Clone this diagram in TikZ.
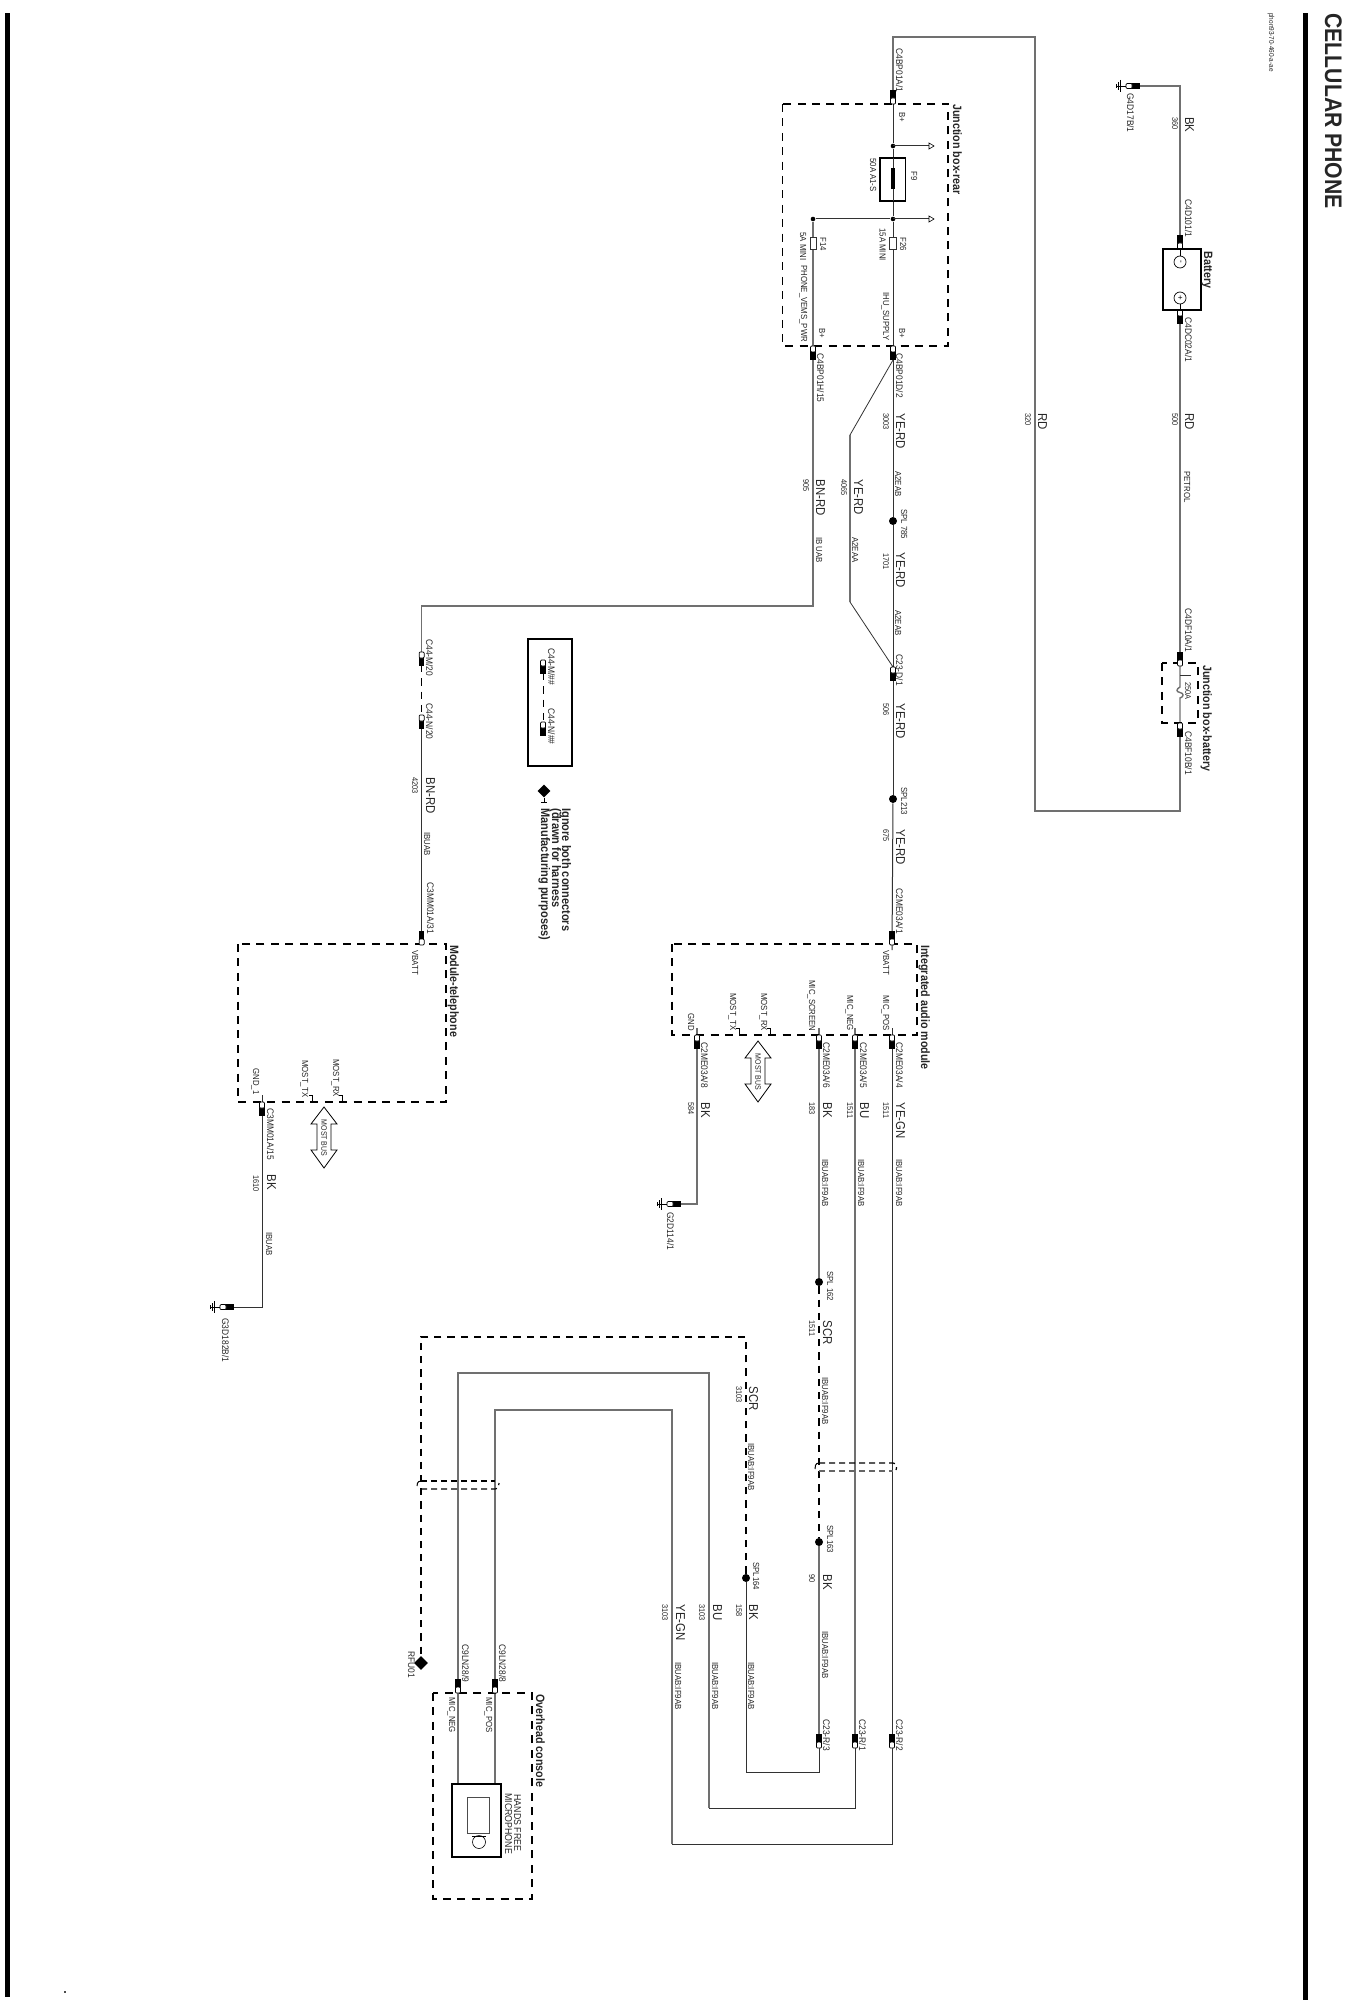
\documentclass[tikz,border=0pt]{standalone}
\usepackage{fontspec}
\setmainfont{Liberation Sans}
\usetikzlibrary{calc, shapes.geometric}
\definecolor{wiredark}{RGB}{50, 50, 50}
\definecolor{wirelight}{RGB}{112, 112, 112}
\tikzset{
  wire/.style={wiredark, line width=0.5pt},
  wirel/.style={wirelight, line width=0.7pt},
  wired/.style={black, line width=0.75pt, dash pattern=on 3.6pt off 3pt},
  modbox/.style={black, line width=0.75pt, dash pattern=on 4pt off 3.2pt},
  solidbox/.style={black, line width=0.85pt},
  twist/.style={line width=0.6pt, dash pattern=on 3pt off 2pt},
  splice/.style={circle, fill=black, inner sep=0pt, minimum size=4pt},
  minidot/.style={circle, fill=black, inner sep=0pt, minimum size=2.3pt},
  txt/.style={rotate=-90, yscale=1.13, anchor=base west, inner sep=0pt, text=black!85},
  conlbl/.style={txt, font=\fontsize{4.2}{5}\selectfont},
  siglbl/.style={txt, font=\fontsize{3.9}{5}\selectfont},
  numlbl/.style={txt, font=\fontsize{3.7}{5}\selectfont},
  collbl/.style={txt, font=\fontsize{5.7}{7}\selectfont},
  boxlbl/.style={txt, font=\fontsize{5.35}{7}\selectfont\bfseries},
  conn/.pic={
    \fill[black] (-2.7, -5) rectangle (2.7, -14);
    \draw[fill=white, line width=0.35pt, rounded corners=0.5pt] (-2.5, 0) rectangle (2.5, -6);
  },
  gnd/.pic={
    \draw[line width=0.4pt] (0, 0) -- (-9, 0);
    \draw[line width=0.4pt] (-6, -6) -- (-6, 6);
    \draw[line width=0.4pt] (-8, -4) -- (-8, 4);
    \draw[line width=0.4pt] (-10, -2) -- (-10, 2);
  },
  tap/.pic={
    \draw[wire] (0, 0) -- (36, 0);
    \draw[line width=0.3pt, fill=white] (36, -3) -- (41, 0) -- (36, 3) -- cycle;
  },
  stub/.pic={
    \draw[line width=0.45pt] (-3, -7) -- (0, -7) -- (0, 0);
  },
  mostbus/.pic={
    \draw[line width=0.4pt, fill=white] (0, 0) -- (13, 17) -- (7, 17) -- (7, 43) -- (13, 43)
      -- (0, 61) -- (-13, 43) -- (-7, 43) -- (-7, 17) -- (-13, 17) -- cycle;
  }
}

\begin{document}
\begin{tikzpicture}[x=0.5pt, y=-0.5pt]
  \useasboundingbox (0, 0) rectangle (1346, 2000);

  % page furniture
  \fill[black] (5, 13) rectangle (10, 1997);
  \fill[black] (1303, 13) rectangle (1307.5, 2000);
  \fill[black!70] (63.5, 1991) rectangle (66, 1993);
  \node[txt, font=\fontsize{10.6}{13}\selectfont\bfseries] (title) at (1325, 13) {CELLULAR PHONE};
  \node[numlbl, font=\fontsize{3.2}{4}\selectfont] (fileref) at (1269, 13) {phon93-70-460-a-ae};

  % connector positions
  \coordinate (c4bp01a) at (893, 104);
  \coordinate (c4bp01d) at (893, 346);
  \coordinate (c4bp01h) at (813, 346);
  \coordinate (c2me03a1) at (892, 945);
  \coordinate (c23d) at (893, 667);
  \coordinate (c44m) at (421.7, 652);
  \coordinate (c44n) at (421.7, 715);
  \coordinate (c3mm31) at (421.7, 945);
  \coordinate (c3mm15) at (262, 1102);
  \coordinate (c4d101) at (1180, 249);
  \coordinate (c4dc02) at (1180, 310);
  \coordinate (c4df10) at (1180, 666);
  \coordinate (c4bf10) at (1180, 723);
  \coordinate (c2me4) at (892, 1035);
  \coordinate (c2me5) at (855, 1035);
  \coordinate (c2me6) at (819, 1035);
  \coordinate (c2me8) at (697, 1035);
  \coordinate (c23r3) at (819, 1748);
  \coordinate (c23r1) at (855, 1748);
  \coordinate (c23r2) at (892, 1748);
  \coordinate (c9lnneg) at (458, 1693);
  \coordinate (c9lnpos) at (495, 1693);
  \coordinate (g4d17) at (1126, 86);
  \coordinate (g2d114) at (667, 1204);
  \coordinate (g3d182) at (220, 1307);

  % splices
  \node[splice] (spl785) at (893, 521) {};
  \node[splice] (spl213) at (893, 799) {};
  \node[splice] (spl162) at (819, 1282) {};
  \node[splice] (spl163) at (819, 1542) {};
  \node[splice] (spl164) at (746, 1578) {};
  \node[minidot] (jf9) at (893, 146) {};
  \node[minidot] (jf26) at (893, 219) {};
  \node[minidot] (jf14) at (813, 219) {};
  \node[diamond, fill=black, inner sep=0pt, minimum size=7pt] (rfu) at (421, 1663) {};

  % wires
  \draw[wirel] (c4bp01a) -- (893, 37) -- (1035, 37) -- (1035, 811) -- (1180, 811) -- (c4bf10);
  \draw[wire] (c4bp01a) -- (jf9);
  \draw[wire] (jf9) -- (jf26);
  \draw[wire] (jf26) -- (c4bp01d);
  \draw[wire] (jf26) -- (jf14);
  \draw[wirel] (jf14) -- (c4bp01h);
  \draw[wirel] (c4bp01h) -- (813, 606) -- (421.7, 606) -- (c44m);
  \draw[wired, line width=0.45pt] (c44m) -- (c44n);
  \draw[wire] (c44n) -- (c3mm31);
  \draw[wire] (c4bp01d) -- (spl785);
  \draw[wire] (spl785) -- (spl213);
  \draw[wire] (spl213) -- (892, 950);
  \draw[wire, line width=0.4pt] (893, 360) -- (850, 435);
  \draw[wirel] (850, 435) -- (850, 602);
  \draw[wire, line width=0.4pt] (850, 602) -- (c23d);
  \draw[wirel] (g4d17) -- (1180, 86) -- (c4d101);
  \draw[wirel] (c4dc02) -- (c4df10);
  \draw[wirel] (c4df10) -- (1180, 687) .. controls (1176, 689) and (1176, 692) .. (1180, 692.5)
    .. controls (1184, 693) and (1184, 697) .. (1180, 698) -- (c4bf10);
  \draw[wire, line width=0.4pt] (1180, 675) -- (1191, 675);

  \draw[wire] (892, 1028) -- (c23r2);
  \draw[wirel] (855, 1028) -- (c23r1);
  \draw[wirel] (819, 1028) -- (spl162);
  \draw[wired] (spl162) -- (spl163);
  \draw[wirel] (spl163) -- (c23r3);
  \draw[wire] (c23r3) -- (819, 1772) -- (746, 1772) -- (spl164);
  \draw[wired] (spl164) -- (746, 1337) -- (421, 1337) -- (rfu);
  \draw[wire] (c23r1) -- (855, 1808) -- (709, 1808);
  \draw[wirel] (709, 1808) -- (709, 1373) -- (458, 1373) -- (c9lnneg);
  \draw[wire] (c23r2) -- (892, 1844) -- (672, 1844);
  \draw[wirel] (672, 1844) -- (672, 1410) -- (495, 1410) -- (c9lnpos);
  \draw[wirel] (c9lnneg) -- (458, 1784);
  \draw[wirel] (c9lnpos) -- (495, 1784);
  \draw[wirel] (697, 1028) -- (697, 1204) -- (g2d114);
  \draw[wire] (262, 1095) -- (262, 1307) -- (g3d182);

  % twist marks
  \draw[twist, black] (819, 1463) -- (893, 1463) .. controls (897, 1463) and (897, 1468) .. (896, 1470);
  \draw[twist, black!60] (819, 1471) -- (893, 1471);
  \draw[line width=0.5pt] (819, 1463) .. controls (815, 1463) and (815, 1467) .. (815, 1469);
  \draw[twist, black] (421, 1481) -- (495, 1481);
  \draw[twist, black] (421, 1489) -- (495, 1489) .. controls (499, 1489) and (499, 1485) .. (499, 1483);
  \draw[line width=0.5pt] (421, 1481) .. controls (417, 1481) and (417, 1485) .. (417, 1486);

  % dashed module boxes
  \draw[modbox] (782.5, 104) rectangle (948, 346);
  \draw[modbox] (1162, 663) rectangle (1198, 723);
  \draw[modbox] (672, 944) rectangle (917, 1035);
  \draw[modbox] (238, 944) rectangle (446, 1102);
  \draw[modbox] (433, 1693) rectangle (532, 1899);

  % connector pins
  \pic at (c4bp01a) {conn};
  \pic[rotate=180] at (c4bp01d) {conn};
  \pic[rotate=180] at (c4bp01h) {conn};
  \pic at (c2me03a1) {conn};
  \pic[rotate=180] at (c23d) {conn};
  \pic[rotate=180] at (c44m) {conn};
  \pic[rotate=180] at (c44n) {conn};
  \pic at (c3mm31) {conn};
  \pic[rotate=180] at (c3mm15) {conn};
  \pic at (c4d101) {conn};
  \pic[rotate=180] at (c4dc02) {conn};
  \pic at (c4df10) {conn};
  \pic[rotate=180] at (c4bf10) {conn};
  \pic[rotate=180] at (c2me4) {conn};
  \pic[rotate=180] at (c2me5) {conn};
  \pic[rotate=180] at (c2me6) {conn};
  \pic[rotate=180] at (c2me8) {conn};
  \pic at (c23r3) {conn};
  \pic at (c23r1) {conn};
  \pic at (c23r2) {conn};
  \pic at (c9lnneg) {conn};
  \pic at (c9lnpos) {conn};
  \pic[rotate=-90] at (g4d17) {conn};
  \pic[rotate=-90] at (g2d114) {conn};
  \pic[rotate=-90] at (g3d182) {conn};
  \pic at (g4d17) {gnd};
  \pic at (g2d114) {gnd};
  \pic at (g3d182) {gnd};

  % junction box internals
  \pic at (jf9) {tap};
  \pic at (jf26) {tap};
  \draw[solidbox, fill=white] (880, 158) rectangle (905.4, 201);
  \draw[wire] (893, 158) -- (893, 201);
  \fill[black] (891, 168) rectangle (895, 189);
  \draw[wire, line width=0.4pt, fill=white] (889, 237) rectangle (896, 249);
  \draw[wire, line width=0.4pt, fill=white] (810, 237) rectangle (816, 249);

  % pin stubs
  \pic at (770, 1035) {stub};
  \pic at (739, 1035) {stub};
  \pic at (342, 1102) {stub};
  \pic at (312, 1102) {stub};

  % most bus arrows
  \pic at (758, 1041) {mostbus};
  \pic at (324, 1107) {mostbus};
  \node[siglbl, anchor=center, font=\fontsize{3.5}{4}\selectfont] (busa) at (758, 1072) {MOST BUS};
  \node[siglbl, anchor=center, font=\fontsize{3.5}{4}\selectfont] (busb) at (324, 1138) {MOST BUS};

  % battery
  \draw[solidbox] (1162.7, 249) rectangle (1200.7, 310);
  \draw[line width=0.4pt] (1180, 249) -- (1180, 256);
  \draw[line width=0.4pt] (1180, 304) -- (1180, 310);
  \node[draw, circle, line width=0.35pt, inner sep=0pt, minimum size=6pt, font=\fontsize{3}{3}\selectfont] (termneg) at (1180, 262) {};
  \node[draw, circle, line width=0.35pt, inner sep=0pt, minimum size=6pt, font=\fontsize{3}{3}\selectfont] (termpos) at (1180, 298) {};
  \node[anchor=center, inner sep=0pt, rotate=-90, font=\fontsize{4}{4}\selectfont] (signneg) at (termneg) {-};
  \node[anchor=center, inner sep=0pt, rotate=-90, font=\fontsize{4}{4}\selectfont] (signpos) at (termpos) {+};

  % legend
  \draw[solidbox] (528, 639) rectangle (572, 766);
  \coordinate (legm) at (543, 660);
  \coordinate (legn) at (543, 722);
  \draw[wired, line width=0.45pt] (legm) -- (legn);
  \pic[rotate=180] at (legm) {conn};
  \pic[rotate=180] at (legn) {conn};
  \node[conlbl] (legmt) at (548, 648) {C44-M/\#\#};
  \node[conlbl] (legnt) at (548, 708) {C44-N/\#\#};
  \node[diamond, fill=black, inner sep=0pt, minimum size=6.5pt] (legd) at (544, 791) {};
  \draw[line width=0.4pt] (legd) -- (544, 802);
  \draw[line width=0.4pt] (541, 802) -- (547, 802);
  \node[boxlbl, font=\fontsize{5.5}{6}\selectfont\bfseries] (noteone) at (562, 808) {Ignore both connectors};
  \node[boxlbl, font=\fontsize{5.5}{6}\selectfont\bfseries] (notetwo) at (552, 808) {(drawn for harness};
  \node[boxlbl, font=\fontsize{5.5}{6}\selectfont\bfseries] (notethree) at (541, 808) {Manufacturing purposes)};

  % microphone
  \draw[solidbox] (452, 1784) rectangle (501, 1857);
  \draw[line width=0.45pt, black!70] (467, 1797) rectangle (489, 1833);
  \draw[line width=0.3pt] (472, 1836) -- (486, 1836);
  \node[draw, circle, line width=0.3pt, inner sep=0pt, minimum size=6.5pt] (micro) at (479, 1842) {};
  \node[conlbl, font=\fontsize{4.4}{5}\selectfont] (micone) at (514, 1794) {HANDS FREE};
  \node[conlbl, font=\fontsize{4.4}{5}\selectfont] (mictwo) at (505, 1793) {MICROPHONE};

  % box titles
  \node[boxlbl] (jbrear) at (953, 104) {Junction box-rear};
  \node[boxlbl] (batt) at (1204, 251) {Battery};
  \node[boxlbl] (jbbatt) at (1203, 665) {Junction box-battery};
  \node[boxlbl] (iam) at (921, 945) {Integrated audio module};
  \node[boxlbl] (modtel) at (450, 945) {Module-telephone};
  \node[boxlbl] (ohc) at (536, 1694) {Overhead console};

  % connector labels
  \node[conlbl] (tc4bp01a) at (896, 48) {C4BP01A/1};
  \node[conlbl] (tc4bp01d) at (896, 353) {C4BP01D/2};
  \node[conlbl] (tc4bp01h) at (817, 353) {C4BP01H/15};
  \node[conlbl] (tc23d) at (896, 654) {C23-D/1};
  \node[conlbl] (tc2me1) at (896, 888) {C2ME03A/1};
  \node[conlbl] (tc44m) at (426, 639) {C44-M/20};
  \node[conlbl] (tc44n) at (426, 703) {C44-N/20};
  \node[conlbl] (tc3mm31) at (427, 882) {C3MM01A/31};
  \node[conlbl] (tc3mm15) at (267, 1108) {C3MM01A/15};
  \node[conlbl] (tc4d101) at (1185, 199) {C4D101/1};
  \node[conlbl] (tc4dc02) at (1185, 317) {C4DC02A/1};
  \node[conlbl] (tc4df10) at (1185, 608) {C4DF10A/1};
  \node[conlbl] (tc4bf10) at (1185, 731) {C4BF10B/1};
  \node[conlbl] (tg4d17) at (1127, 93) {G4D17B/1};
  \node[conlbl] (tg2d114) at (667, 1212) {G2D114/1};
  \node[conlbl] (tg3d182) at (222, 1318) {G3D182B/1};
  \node[conlbl] (tc2me4) at (896, 1042) {C2ME03A/4};
  \node[conlbl] (tc2me5) at (860, 1042) {C2ME03A/5};
  \node[conlbl] (tc2me6) at (823, 1042) {C2ME03A/6};
  \node[conlbl] (tc2me8) at (701, 1042) {C2ME03A/8};
  \node[conlbl] (tc23r3) at (823, 1719) {C23-R/3};
  \node[conlbl] (tc23r1) at (859, 1719) {C23-R/1};
  \node[conlbl] (tc23r2) at (896, 1719) {C23-R/2};
  \node[conlbl] (tc9ln9) at (462, 1644) {C9LN28/9};
  \node[conlbl] (tc9ln8) at (499, 1644) {C9LN28/8};
  \node[conlbl] (trfu) at (408, 1651) {RFU01};

  % splice labels
  \node[siglbl] (tspl785) at (901, 509) {SPL 785};
  \node[siglbl] (tspl213) at (901, 787) {SPL213};
  \node[siglbl] (tspl162) at (827, 1271) {SPL 162};
  \node[siglbl] (tspl163) at (827, 1525) {SPL163};
  \node[siglbl] (tspl164) at (753, 1562) {SPL164};

  % fuse and pin labels
  \node[siglbl] (tbplusa) at (899, 112) {B+};
  \node[siglbl] (tbplusb) at (899, 328) {B+};
  \node[siglbl] (tbplusc) at (819, 328) {B+};
  \node[siglbl] (tf9) at (911, 171) {F9};
  \node[siglbl] (t50a) at (870, 158) {50A A1-S};
  \node[siglbl] (tf26) at (900, 237) {F26};
  \node[siglbl] (t15a) at (879.5, 228) {15A MINI};
  \node[siglbl] (tf14) at (820, 237) {F14};
  \node[siglbl] (t5a) at (800, 232) {5A MINI};
  \node[siglbl] (tphone) at (801, 265) {PHONE\_VEMS\_PWR};
  \node[siglbl] (tihu) at (883, 292) {IHU\_SUPPLY};
  \node[numlbl] (t250a) at (1185, 682) {250A};
  \node[siglbl] (tvbatta) at (883, 950) {VBATT};
  \node[siglbl] (tmpos) at (883, 995) {MIC\_POS};
  \node[siglbl] (tmneg) at (847, 995) {MIC\_NEG};
  \node[siglbl] (tmscr) at (809, 980) {MIC\_SCREEN};
  \node[siglbl] (tmrx) at (761, 993) {MOST\_RX};
  \node[siglbl] (tmtx) at (730, 993) {MOST\_TX};
  \node[siglbl] (tgnd) at (688, 1013) {GND};
  \node[siglbl] (tvbattb) at (412, 950) {VBATT};
  \node[siglbl] (tmrxb) at (333, 1059) {MOST\_RX};
  \node[siglbl] (tmtxb) at (302, 1060) {MOST\_TX};
  \node[siglbl] (tgndb) at (253, 1068) {GND\_1};
  \node[siglbl] (tmicneg) at (449, 1697) {MIC\_NEG};
  \node[siglbl] (tmicpos) at (486, 1697) {MIC\_POS};

  % wire colours
  \node[collbl] (cye1) at (896, 413) {YE-RD};
  \node[collbl] (cye2) at (896, 552) {YE-RD};
  \node[collbl] (cye3) at (896, 703) {YE-RD};
  \node[collbl] (cye4) at (896, 829) {YE-RD};
  \node[collbl] (cye5) at (854, 479) {YE-RD};
  \node[collbl] (cbn1) at (816, 479) {BN-RD};
  \node[collbl] (cbn2) at (426, 777) {BN-RD};
  \node[collbl] (crd1) at (1038, 413) {RD};
  \node[collbl] (crd2) at (1185, 413) {RD};
  \node[collbl] (cbk1) at (1185, 117) {BK};
  \node[collbl] (cgn1) at (896, 1102) {YE-GN};
  \node[collbl] (cbu1) at (860, 1102) {BU};
  \node[collbl] (cbk2) at (823, 1102) {BK};
  \node[collbl] (cbk3) at (701, 1102) {BK};
  \node[collbl] (cbk4) at (267, 1174) {BK};
  \node[collbl] (csc1) at (823, 1320) {SCR};
  \node[collbl] (csc2) at (749, 1386) {SCR};
  \node[collbl] (cbk5) at (823, 1574) {BK};
  \node[collbl] (cbk6) at (749, 1604) {BK};
  \node[collbl] (cbu2) at (713, 1604) {BU};
  \node[collbl] (cgn2) at (676, 1604) {YE-GN};

  % wire numbers
  \node[numlbl] (n3003) at (883, 413) {3003};
  \node[numlbl] (n1701) at (883, 553) {1701};
  \node[numlbl] (n506) at (883, 703) {506};
  \node[numlbl] (n675) at (883, 829) {675};
  \node[numlbl] (n4065) at (841, 479) {4065};
  \node[numlbl] (n905) at (803, 479) {905};
  \node[numlbl] (n320) at (1025, 413) {320};
  \node[numlbl] (n500) at (1172, 413) {500};
  \node[numlbl] (n360) at (1172, 117) {360};
  \node[numlbl] (n4203) at (412, 777) {4203};
  \node[numlbl] (n1511a) at (883, 1102) {1511};
  \node[numlbl] (n1511b) at (847, 1102) {1511};
  \node[numlbl] (n183) at (809, 1102) {183};
  \node[numlbl] (n584) at (688, 1102) {584};
  \node[numlbl] (n1610) at (253, 1175) {1610};
  \node[numlbl] (n1511c) at (809, 1320) {1511};
  \node[numlbl] (n3103a) at (736, 1386) {3103};
  \node[numlbl] (n90) at (809, 1574) {90};
  \node[numlbl] (n158) at (736, 1604) {158};
  \node[numlbl] (n3103b) at (699, 1604) {3103};
  \node[numlbl] (n3103c) at (662, 1604) {3103};

  % harness codes
  \node[siglbl] (h1) at (895, 471) {A2EAB};
  \node[siglbl] (h2) at (895, 610) {A2EAB};
  \node[siglbl] (h3) at (852, 537) {A2EAA};
  \node[siglbl] (h4) at (816, 537) {IB UAB};
  \node[siglbl] (h5) at (1184, 471) {PETROL};
  \node[siglbl] (h6) at (424, 832) {IBUAB};
  \node[siglbl] (h7) at (266, 1232) {IBUAB};
  \node[siglbl] (h8) at (896, 1159) {IBUAB:IF9AB};
  \node[siglbl] (h9) at (858, 1159) {IBUAB:IF9AB};
  \node[siglbl] (h10) at (822, 1159) {IBUAB:IF9AB};
  \node[siglbl] (h11) at (822, 1377) {IBUAB:IF9AB};
  \node[siglbl] (h12) at (748, 1443) {IBUAB:IF9AB};
  \node[siglbl] (h13) at (822, 1631) {IBUAB:IF9AB};
  \node[siglbl] (h14) at (748, 1662) {IBUAB:IF9AB};
  \node[siglbl] (h15) at (712, 1662) {IBUAB:IF9AB};
  \node[siglbl] (h16) at (675, 1662) {IBUAB:IF9AB};
\end{tikzpicture}
\end{document}
